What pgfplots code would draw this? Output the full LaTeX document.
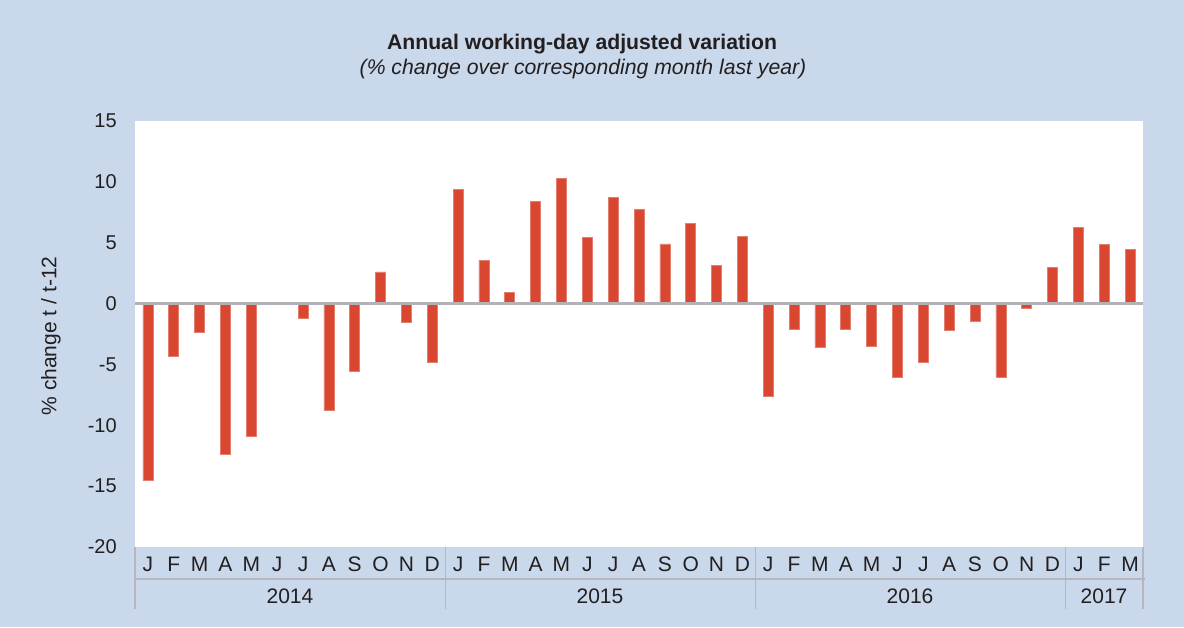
\documentclass[border=0pt]{standalone}
\usepackage{fontspec}
\setmainfont{Liberation Sans}
\usepackage{pgfplots}
\pgfplotsset{compat=1.18}
\definecolor{bgblue}{RGB}{201,216,234}
\definecolor{barred}{RGB}{217,71,48}
\definecolor{zerogray}{RGB}{178,178,184}
\definecolor{sepgray}{RGB}{182,182,188}
\definecolor{txt}{RGB}{35,31,32}
\begin{document}
\begin{tikzpicture}[x=0.5pt,y=0.5pt]
\fill[bgblue] (0,0) rectangle (1184,627);
\begin{axis}[
  at={(67.5pt,40pt)}, anchor=south west,
  scale only axis, width=504pt, height=213pt,
  xmin=-0.5, xmax=38.5, ymin=-20, ymax=15,
  axis background/.style={fill=white},
  axis line style={draw=none},
  major tick length=0pt,
  ytick={-20,-15,-10,-5,0,5,10,15},
  yticklabels={-20,-15,-10,-5,0,5,10,15},
  yticklabel style={font=\fontsize{10}{12}\selectfont, text=txt, xshift=-5.6pt},
  xtick={0,...,38},
  xticklabels={J,F,M,A,M,J,J,A,S,O,N,D,J,F,M,A,M,J,J,A,S,O,N,D,J,F,M,A,M,J,J,A,S,O,N,D,J,F,M},
  xticklabel style={font=\fontsize{10.5}{12}\selectfont, text=txt, yshift=-1.4pt},
  ybar, bar width=5pt,
  clip=false,
]
\addplot[fill=barred, draw=barred!70!white, line width=0.3pt] coordinates {
(0,-14.5) (1,-4.3) (2,-2.35) (3,-12.4) (4,-10.9) (5,0) (6,-1.2) (7,-8.8) (8,-5.6) (9,2.6) (10,-1.55) (11,-4.8)
(12,9.38) (13,3.57) (14,0.89) (15,8.4) (16,10.29) (17,5.41) (18,8.73) (19,7.74) (20,4.91) (21,6.61) (22,3.14) (23,5.49)
(24,-7.6) (25,-2.08) (26,-3.58) (27,-2.1) (28,-3.53) (29,-6.02) (30,-4.79) (31,-2.22) (32,-1.42) (33,-6.02) (34,-0.35) (35,2.94)
(36,6.23) (37,4.86) (38,4.45)
};
\draw[zerogray, line width=1.3pt] (axis cs:-0.5,0) -- (axis cs:38.5,0);
\end{axis}
% separators
\draw[sepgray, line width=1pt] (135,627-579) -- (1145,627-579);
\foreach \xx in {135,445.5,755.5,1065.5,1143} {
  \draw[sepgray, line width=0.6pt] (\xx,627-547) -- (\xx,627-609);
}
\node[text=txt, font=\fontsize{10.5}{12}\selectfont] at (290,627-596) {2014};
\node[text=txt, font=\fontsize{10.5}{12}\selectfont] at (600,627-596) {2015};
\node[text=txt, font=\fontsize{10.5}{12}\selectfont] at (910,627-596) {2016};
\node[text=txt, font=\fontsize{10.5}{12}\selectfont] at (1104,627-596) {2017};
% titles
\node[text=txt, font=\bfseries\fontsize{10.6}{12}\selectfont] at (582,627-44) {Annual working-day adjusted variation};
\node[text=txt, font=\itshape\fontsize{10.6}{12}\selectfont] at (583,627-69) {(\% change over corresponding month last year)};
\node[text=txt, font=\fontsize{10.5}{12}\selectfont, rotate=90] at (51,627-336) {\% change t / t-12};
\end{tikzpicture}
\end{document}
